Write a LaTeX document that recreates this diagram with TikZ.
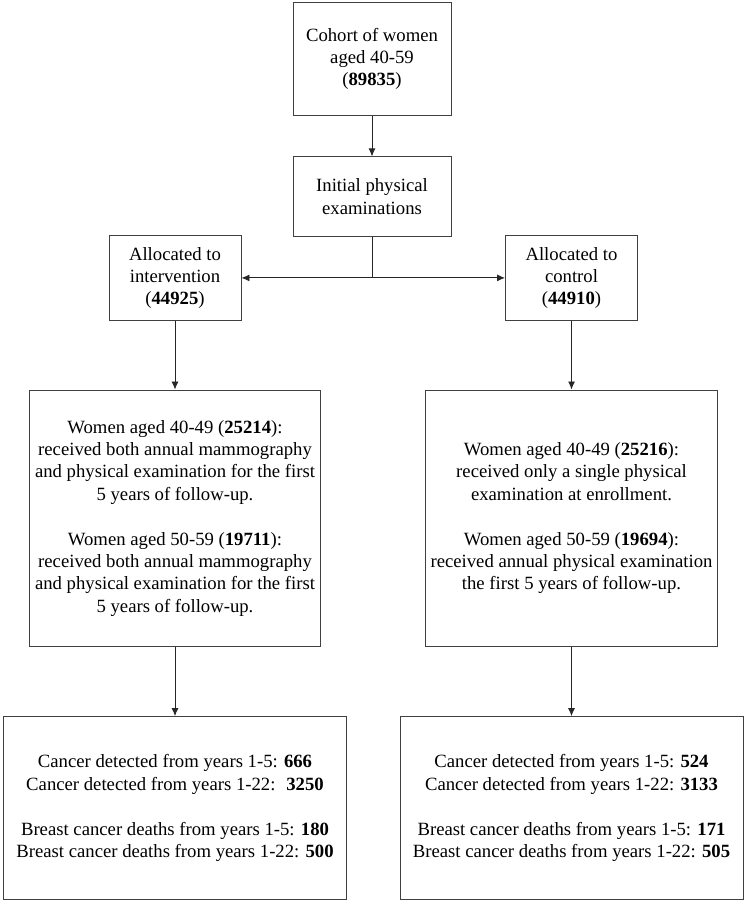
\documentclass[tikz,border=0pt]{standalone}
\usepackage{fontspec}
\setmainfont{Liberation Serif}
\usetikzlibrary{positioning, arrows.meta}

\tikzset{
  box/.style={draw=black!75, line width=0.9pt, align=center, inner sep=0pt,
    font=\fontsize{18.7}{22.4}\selectfont},
  flow/.style={-{Latex[length=8pt,width=7pt]}, draw=black!85, line width=0.9pt}
}

\begin{document}
\begin{tikzpicture}[x=1pt, y=1pt, node distance=69pt]
    \useasboundingbox (0,0) rectangle (746,-900);

    % Define the boxes (top to bottom)
    \node (cohort) [box, minimum width=158pt, minimum height=112.6pt] at (372,-59)
        {Cohort of women\\aged 40-59\\(\textbf{89835})};  % Whole cohort
    \node (init) [box, below=40.7pt of cohort, minimum width=158pt, minimum height=79.3pt]
        {Initial physical\\examinations};
    \node (interv) [box, minimum width=132pt, minimum height=84.3pt] at (175,-277.9)
        {Allocated to\\intervention\\(\textbf{44925})};  % Intervention arm
    \node (ctrl) [box, minimum width=132pt, minimum height=84.3pt] at (571.5,-277.9)
        {Allocated to\\control\\(\textbf{44910})};  % Control arm
    \node (intervgrp) [box, below=of interv, minimum width=291.5pt, minimum height=256.7pt]
        {Women aged 40-49 (\textbf{25214}):\\received both annual mammography\\and physical examination for the first\\5 years of follow-up.\\[22.4pt]
         Women aged 50-59 (\textbf{19711}):\\received both annual mammography\\and physical examination for the first\\5 years of follow-up.};
    \node (ctrlgrp) [box, below=of ctrl, minimum width=291.5pt, minimum height=256.7pt]
        {Women aged 40-49 (\textbf{25216}):\\received only a single physical\\examination at enrollment.\\[22.4pt]
         Women aged 50-59 (\textbf{19694}):\\received annual physical examination\\the first 5 years of follow-up.};
    \node (intervres) [box, below=of intervgrp, minimum width=343.5pt, minimum height=183pt]
        {Cancer detected from years 1-5: \textbf{666}\\Cancer detected from years 1-22: \ \textbf{3250}\\[22.4pt]
         Breast cancer deaths from years 1-5: \textbf{180}\\Breast cancer deaths from years 1-22: \textbf{500}};
    \node (ctrlres) [box, below=of ctrlgrp, minimum width=343pt, minimum height=183pt]
        {Cancer detected from years 1-5: \textbf{524}\\Cancer detected from years 1-22: \textbf{3133}\\[22.4pt]
         Breast cancer deaths from years 1-5: \textbf{171}\\Breast cancer deaths from years 1-22: \textbf{505}};

    % Split point under the initial examinations
    \coordinate (split) at (init.south |- interv.east);

    % Define arrows
    \draw[flow] (cohort) -- (init);
    \draw[draw=black!85, line width=0.9pt] (init) -- (split);
    \draw[flow] (split) -- (interv);
    \draw[flow] (split) -- (ctrl);
    \draw[flow] (interv) -- (intervgrp);
    \draw[flow] (ctrl) -- (ctrlgrp);
    \draw[flow] (intervgrp) -- (intervres);
    \draw[flow] (ctrlgrp) -- (ctrlres);
\end{tikzpicture}
\end{document}
